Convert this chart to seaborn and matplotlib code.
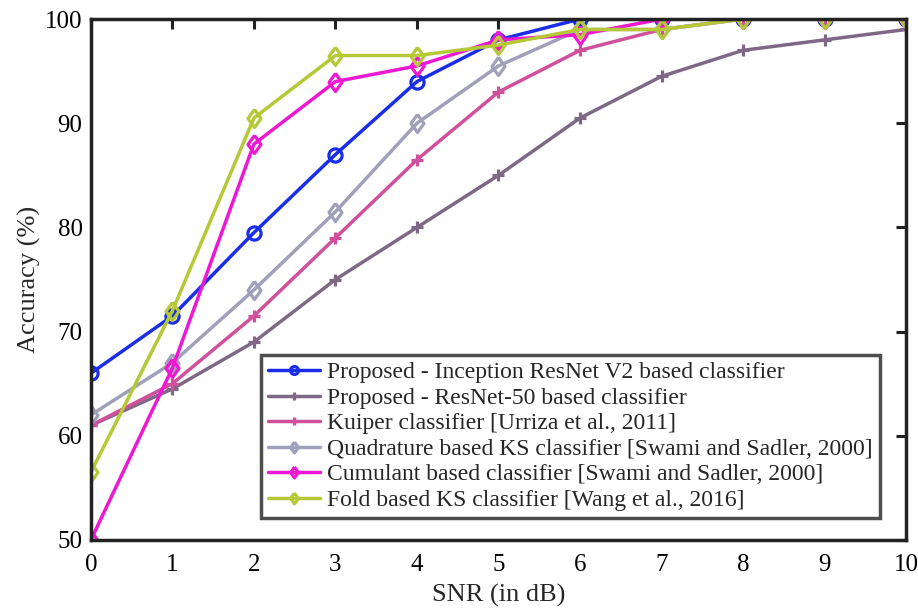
import matplotlib
matplotlib.use("Agg")
import matplotlib.pyplot as plt
import seaborn as sns
import numpy as np

snr = [0, 1, 2, 3, 4, 5, 6, 7, 8, 9, 10]
names = [
    "Proposed - Inception ResNet V2 based classifier",
    "Proposed - ResNet-50 based classifier",
    "Kuiper classifier [Urriza et al., 2011]",
    "Quadrature based KS classifier [Swami and Sadler, 2000]",
    "Cumulant based classifier [Swami and Sadler, 2000]",
    "Fold based KS classifier [Wang et al., 2016]",
]
inception = [66, 71.5, 79.5, 87, 94, 98, 100, 100, 100, 100, 100]
resnet50 = [61, 64.5, 69, 75, 80, 85, 90.5, 94.5, 97, 98, 99]
kuiper = [61, 65, 71.5, 79, 86.5, 93, 97, 99, 100, 100, 100]
quadrature = [62, 67, 74, 81.5, 90, 95.5, 99, 99, 100, 100, 100]
cumulant = [50, 66.5, 88, 94, 95.5, 98, 98.5, 100, 100, 100, 100]
fold = [56.5, 72, 90.5, 96.5, 96.5, 97.5, 99, 99, 100, 100, 100]

series = [inception, resnet50, kuiper, quadrature, cumulant, fold]
colors = ["#1a2de8", "#7f6886", "#d0509c", "#a0a0ba", "#ee18d2", "#b5c936"]
diamond = [(0, 1), (0.72, 0), (0, -1), (-0.72, 0), (0, 1)]
markers = ["o", "+", "+", diamond, diamond, diamond]
msizes = [9.5, 9, 9, 13, 13, 13]

sns.set_style("white")
plt.rcParams["font.family"] = ["Liberation Serif", "DejaVu Serif"]

fig = plt.figure(figsize=(9.18, 6.15), dpi=100)
ax = fig.add_axes([0.099, 0.122, 0.888, 0.847])

for name, vals, c, m, ms in zip(names, series, colors, markers, msizes):
    sns.lineplot(x=snr, y=vals, ax=ax, color=c, marker=m, markersize=ms,
                 markerfacecolor="none", markeredgecolor=c, markeredgewidth=2.3,
                 linewidth=2.5, label=name)

ax.set_xlim(0, 10)
ax.set_ylim(50, 100)
ax.set_xticks(range(0, 11))
ax.set_yticks(range(50, 101, 10))
ax.tick_params(direction="in", length=7, width=2.2, labelsize=18,
               top=True, right=True, colors="#222222", labelcolor="black")
ax.tick_params(axis="x", pad=10)
ax.tick_params(axis="y", pad=6)
for s in ax.spines.values():
    s.set_linewidth(2.5)
    s.set_color("#222222")
ax.set_xlabel("SNR (in dB)", fontsize=19, labelpad=6)
ax.set_ylabel("Accuracy (%)", fontsize=19, labelpad=3)

leg = ax.legend(loc="lower right", bbox_to_anchor=(0.968, 0.042), borderaxespad=0,
                fontsize=17, frameon=True, fancybox=False, handlelength=2.2,
                handletextpad=0.3, labelspacing=0.17, borderpad=0.3, markerscale=0.6)
leg.get_frame().set_edgecolor("#222222")
leg.get_frame().set_linewidth(2.5)

fig.savefig("out.png", dpi=100)
